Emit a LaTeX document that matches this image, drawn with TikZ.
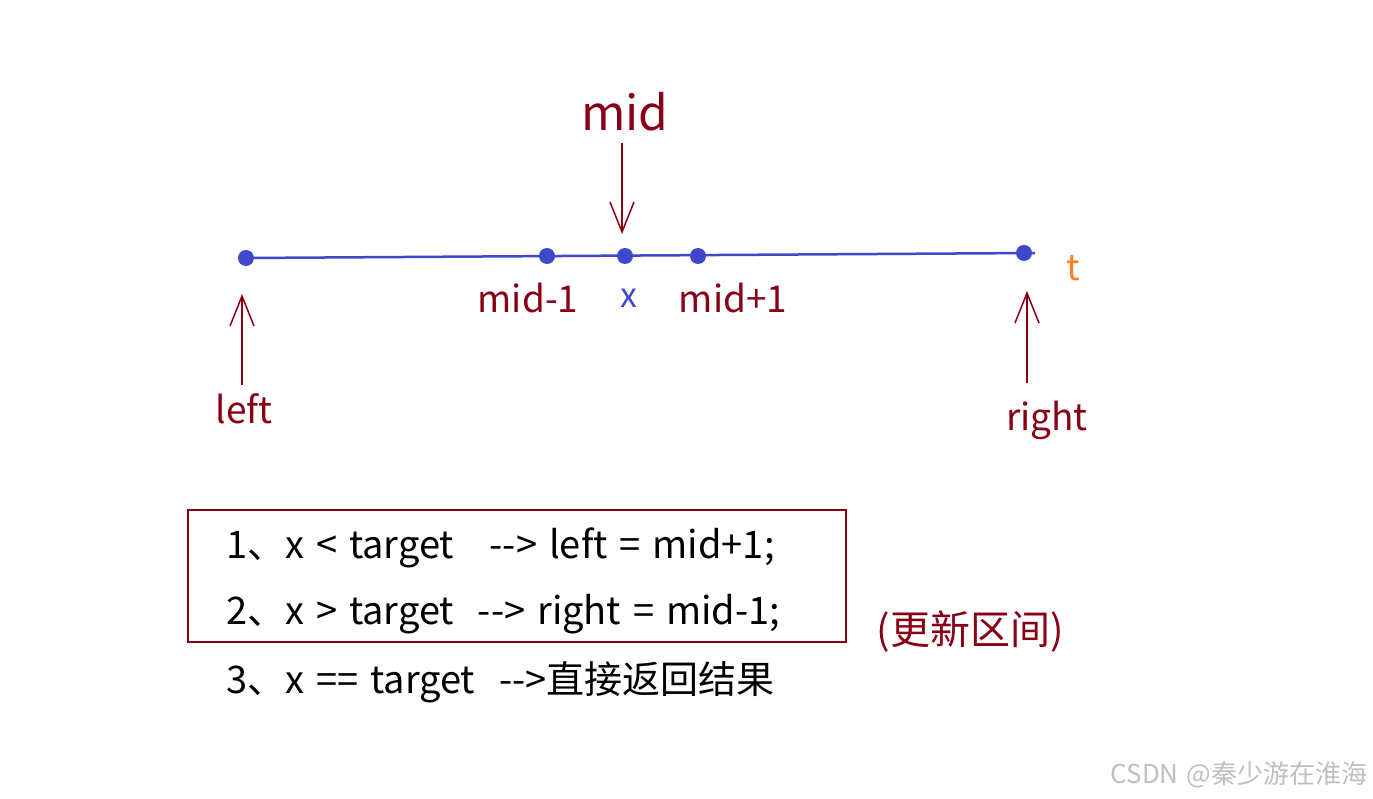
\documentclass[tikz,border=0pt]{standalone}
\usepackage{fontspec}
\setmainfont{Noto Sans CJK SC}[Ligatures=TeXOff]
\newfontfamily\codefont{Noto Sans CJK SC}[Ligatures=TeXOff,WordSpace=1.4]
\usetikzlibrary{arrows.meta}
\definecolor{dred}{HTML}{880015}
\definecolor{pblue}{HTML}{3F48CC}
\definecolor{porange}{HTML}{FF7F27}
\begin{document}
\begin{tikzpicture}[x=1pt,y=-1pt,
  dot/.style={circle,fill=pblue,inner sep=0pt,minimum size=16pt},
  lbl/.style={text=dred,font=\fontsize{37}{44}\selectfont,inner sep=0pt},
  ptr/.style={draw=dred,line width=2pt,-{Straight Barb[length=30pt,width=24pt,line width=1.5pt]}},
  code/.style={font=\codefont\fontsize{38}{44}\selectfont,inner sep=0pt,anchor=west}]
\useasboundingbox (0,0) rectangle (1373,799);
% axis
\node[dot] (L) at (246,258) {};
\node[dot] (M1) at (547,256) {};
\node[dot] (X) at (625,256) {};
\node[dot] (P1) at (698,256) {};
\node[dot] (R) at (1024,253) {};
\coordinate (Rend) at (1035,253);
\draw[pblue,line width=2.5pt] (L.center) -- (Rend);
% labels
\node[lbl,font=\fontsize{48}{56}\selectfont] (mid) at (625,112) {mid};
\node[lbl] (lm1) at (528,298) {mid-1};
\node[inner sep=0pt,text=pblue,font=\fontsize{34}{40}\selectfont] (lx) at (629,298) {x};
\node[lbl] (lp1) at (733,298) {mid+1};
\node[inner sep=0pt,text=porange,font=\fontsize{36}{42}\selectfont] (lt) at (1073,268) {t};
\node[lbl] (lleft) at (244,409) {left};
\node[lbl] (lright) at (1047,420) {right};
% pointers
\coordinate (ms) at (622,143);
\coordinate (me) at (622,234);
\draw[ptr] (ms) -- (me);
\coordinate (ls) at (242,385);
\coordinate (le) at (242,294);
\draw[ptr] (ls) -- (le);
\coordinate (rs) at (1027,383);
\coordinate (re) at (1027,291);
\draw[ptr] (rs) -- (re);
% box
\node[draw=dred,line width=1.5pt,minimum width=658pt,minimum height=132pt,inner sep=0pt] (box) at (517,576) {};
\node[code] (c1) at (226,548) {1、x < target \ \ --> left = mid+1;};
\node[code] (c2) at (226,614) {2、x > target \ --> right = mid-1;};
\node[code] (c3) at (226,682) {3、x == target \ -->直接返回结果};
\node[lbl,font=\fontsize{40}{46}\selectfont] (upd) at (970,632) {(更新区间)};
\node[text=black!25,font=\fontsize{26}{30}\selectfont,inner sep=0pt] (wm) at (1239,775) {CSDN @秦少游在淮海};
\end{tikzpicture}
\end{document}
